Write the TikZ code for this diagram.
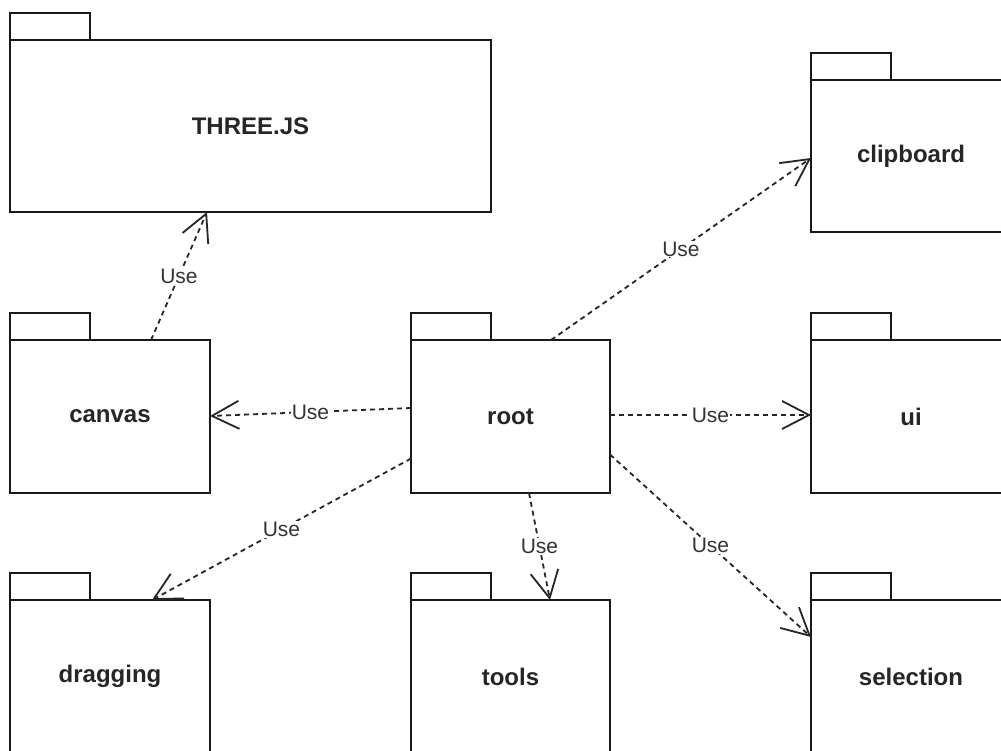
\documentclass[tikz,border=0pt]{standalone}
\usepackage{fontspec}
\setmainfont{Liberation Sans}
\usetikzlibrary{arrows.meta}
\begin{document}
\begin{tikzpicture}[x=1pt,y=-1pt,
  pkg/.style={draw=black!90, line width=1.9pt, fill=white, minimum width=200pt, minimum height=153pt, inner sep=0pt, outer sep=0pt, font=\fontsize{24}{28}\selectfont\bfseries, text=black!85, anchor=north west},
  tabbox/.style={draw=black!90, line width=1.9pt, fill=white, minimum width=80pt, minimum height=27pt, inner sep=0pt, outer sep=0pt, anchor=south west},
  uses/.style={draw=black!85, line width=1.8pt, dash pattern=on 5pt off 4pt, -{Straight Barb[length=27pt,width=28pt]}},
  lbl/.style={fill=white, inner sep=1pt, font=\fontsize{21}{24}\selectfont, text=black!80}]
\useasboundingbox (0,0) rectangle (1001,750);
\clip (0,0) rectangle (1001,750);
\fill[white] (0,0) rectangle (1001,750);
% packages
\node[pkg, minimum width=481pt, minimum height=172pt] (three) at (10,40) {THREE.JS};
\node[tabbox] (threetab) at (three.north west) {};
\node[pkg, minimum height=152pt] (clip) at (811,80) {clipboard};
\node[tabbox] (cliptab) at (clip.north west) {};
\node[pkg] (canvas) at (10,340) {canvas};
\node[tabbox] (canvastab) at (canvas.north west) {};
\node[pkg, minimum width=199pt] (root) at (411,340) {root};
\node[tabbox] (roottab) at (root.north west) {};
\node[pkg] (ui) at (811,340) {ui};
\node[tabbox] (uitab) at (ui.north west) {};
\node[pkg] (dragging) at (10,600) {dragging};
\node[tabbox] (draggingtab) at (dragging.north west) {};
\node[pkg, minimum width=199pt] (tools) at (411,600) {tools};
\node[tabbox] (toolstab) at (tools.north west) {};
\node[pkg] (selection) at (811,600) {selection};
\node[tabbox] (selectiontab) at (selection.north west) {};
% dependencies
\draw[uses] ([xshift=141pt]canvas.north west) -- node[lbl]{Use} ([xshift=197pt]three.south west);
\draw[uses] ([yshift=8.5pt]root.west) -- node[lbl]{Use} ([yshift=0.5pt]canvas.east);
\draw[uses] ([xshift=140pt]root.north west) -- node[lbl]{Use} ([yshift=-2pt]clip.west);
\draw[uses] ([yshift=1.5pt]root.east) -- node[lbl]{Use} ([yshift=1.5pt]ui.west);
\draw[uses] ([yshift=-42pt]root.west) -- node[lbl]{Use} ([xshift=142pt]dragging.north west);
\draw[uses] ([xshift=118pt]root.south west) -- node[lbl]{Use} ([xshift=139pt]tools.north west);
\draw[uses] ([yshift=-38pt]root.east) -- node[lbl]{Use} ([yshift=-37pt]selection.north west);
\end{tikzpicture}
\end{document}
